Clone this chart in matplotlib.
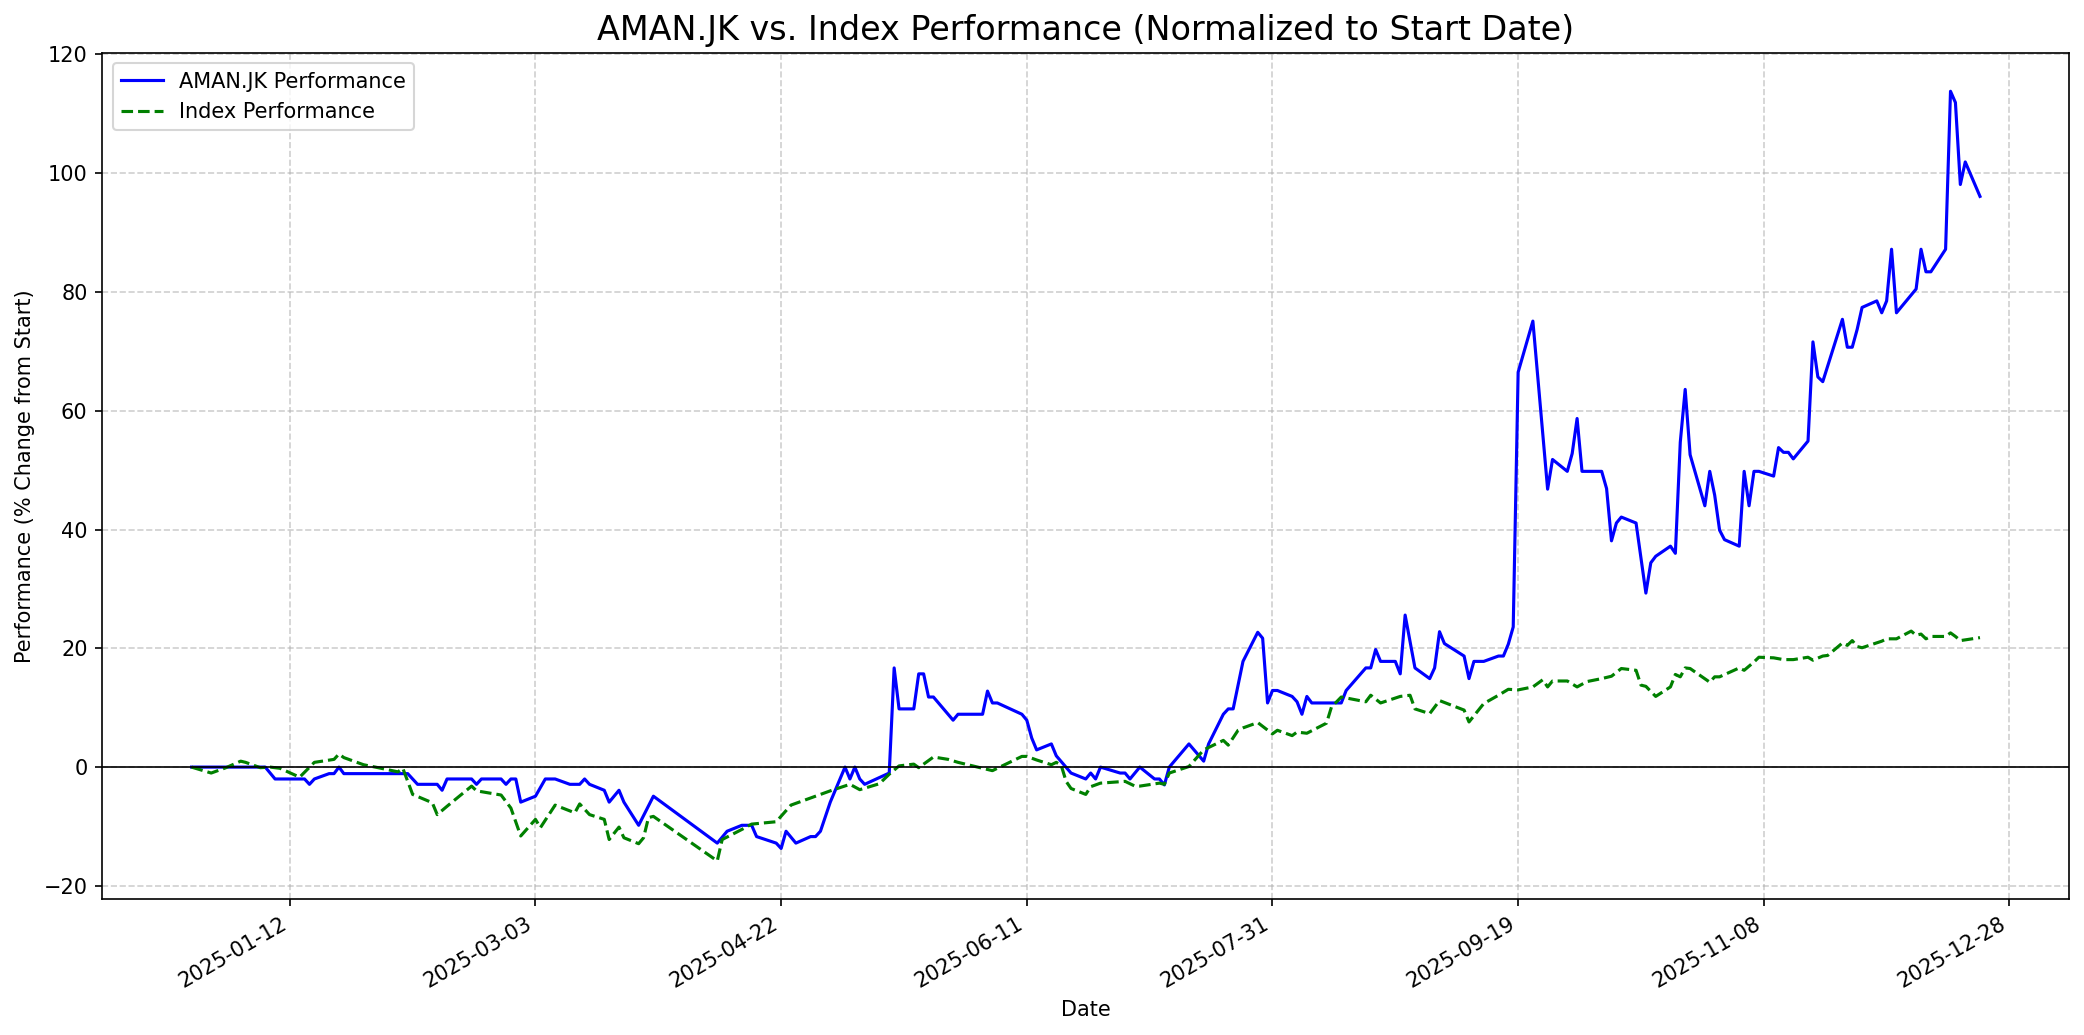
import matplotlib
matplotlib.use('Agg')
import matplotlib.pyplot as plt
import matplotlib.dates as mdates
from matplotlib.ticker import MultipleLocator
import pandas as pd

# AMAN.JK cumulative % change from start
aman_dates = [
    "2024-12-23", "2025-01-07", "2025-01-09", "2025-01-15", "2025-01-16", "2025-01-17", "2025-01-20", "2025-01-21", "2025-01-22", "2025-01-23",
    "2025-02-05", "2025-02-07", "2025-02-11", "2025-02-12", "2025-02-13", "2025-02-18", "2025-02-19", "2025-02-20", "2025-02-24", "2025-02-25",
    "2025-02-26", "2025-02-27", "2025-02-28", "2025-03-03", "2025-03-05", "2025-03-07", "2025-03-10", "2025-03-12", "2025-03-13", "2025-03-14",
    "2025-03-17", "2025-03-18", "2025-03-20", "2025-03-21", "2025-03-24", "2025-03-27", "2025-04-09", "2025-04-11", "2025-04-14", "2025-04-16",
    "2025-04-17", "2025-04-21", "2025-04-22", "2025-04-23", "2025-04-25", "2025-04-28", "2025-04-29", "2025-04-30", "2025-05-02", "2025-05-05",
    "2025-05-06", "2025-05-07", "2025-05-08", "2025-05-09", "2025-05-14", "2025-05-15", "2025-05-16", "2025-05-19", "2025-05-20", "2025-05-21",
    "2025-05-22", "2025-05-23", "2025-05-27", "2025-05-28", "2025-06-02", "2025-06-03", "2025-06-04", "2025-06-05", "2025-06-10", "2025-06-11",
    "2025-06-12", "2025-06-13", "2025-06-16", "2025-06-17", "2025-06-20", "2025-06-23", "2025-06-24", "2025-06-25", "2025-06-26", "2025-06-30",
    "2025-07-01", "2025-07-02", "2025-07-04", "2025-07-07", "2025-07-08", "2025-07-09", "2025-07-10", "2025-07-14", "2025-07-17", "2025-07-18",
    "2025-07-21", "2025-07-22", "2025-07-23", "2025-07-25", "2025-07-28", "2025-07-29", "2025-07-30", "2025-07-31", "2025-08-01", "2025-08-04",
    "2025-08-05", "2025-08-06", "2025-08-07", "2025-08-08", "2025-08-14", "2025-08-15", "2025-08-19", "2025-08-20", "2025-08-21", "2025-08-22",
    "2025-08-25", "2025-08-26", "2025-08-27", "2025-08-29", "2025-09-01", "2025-09-02", "2025-09-03", "2025-09-04", "2025-09-08", "2025-09-09",
    "2025-09-10", "2025-09-12", "2025-09-15", "2025-09-16", "2025-09-17", "2025-09-18", "2025-09-19", "2025-09-22", "2025-09-25", "2025-09-26",
    "2025-09-29", "2025-09-30", "2025-10-01", "2025-10-02", "2025-10-06", "2025-10-07", "2025-10-08", "2025-10-09", "2025-10-10", "2025-10-13",
    "2025-10-15", "2025-10-16", "2025-10-17", "2025-10-20", "2025-10-21", "2025-10-22", "2025-10-23", "2025-10-24", "2025-10-27", "2025-10-28",
    "2025-10-29", "2025-10-30", "2025-10-31", "2025-11-03", "2025-11-04", "2025-11-05", "2025-11-06", "2025-11-07", "2025-11-10", "2025-11-11",
    "2025-11-12", "2025-11-13", "2025-11-14", "2025-11-17", "2025-11-18", "2025-11-19", "2025-11-20", "2025-11-24", "2025-11-25", "2025-11-26",
    "2025-11-27", "2025-11-28", "2025-12-01", "2025-12-02", "2025-12-03", "2025-12-04", "2025-12-05", "2025-12-09", "2025-12-10", "2025-12-11",
    "2025-12-12", "2025-12-15", "2025-12-16", "2025-12-17", "2025-12-18", "2025-12-19", "2025-12-22",
]
aman_perf = [
    0.0, 0.0, -2.0, -2.0, -2.9, -2.0, -1.1, -1.1, 0.0, -1.1,
    -1.1, -2.9, -2.9, -3.9, -2.0, -2.0, -2.9, -2.0, -2.0, -2.9,
    -2.0, -2.0, -5.9, -4.9, -2.0, -2.0, -2.9, -2.9, -2.0, -2.9,
    -3.9, -5.9, -3.9, -5.9, -9.8, -4.9, -12.8, -10.8, -9.8, -9.8,
    -11.7, -12.8, -13.7, -10.8, -12.8, -11.7, -11.7, -10.8, -5.9, 0.0,
    -2.0, 0.0, -2.0, -2.9, -1.0, 16.7, 9.8, 9.8, 15.7, 15.7,
    11.8, 11.8, 7.9, 8.9, 8.9, 12.8, 10.8, 10.8, 8.9, 7.9,
    4.9, 2.9, 3.9, 1.9, -1.0, -2.0, -1.0, -2.0, 0.0, -1.0,
    -1.0, -2.0, 0.0, -2.0, -2.0, -3.0, 0.0, 3.9, 1.0, 3.9,
    8.9, 9.8, 9.8, 17.8, 22.7, 21.7, 10.8, 12.9, 12.9, 11.9,
    11.0, 8.9, 11.9, 10.8, 10.8, 12.9, 16.7, 16.7, 19.8, 17.8,
    17.8, 15.7, 25.6, 16.7, 14.9, 16.7, 22.8, 20.8, 18.7, 14.9,
    17.8, 17.8, 18.7, 18.7, 20.7, 23.6, 66.5, 75.1, 46.8, 51.8,
    49.8, 52.8, 58.7, 49.8, 49.8, 46.9, 38.1, 41.1, 42.1, 41.1,
    29.3, 34.4, 35.5, 37.2, 36.0, 54.7, 63.6, 52.6, 44.0, 49.8,
    45.8, 39.9, 38.3, 37.2, 49.8, 44.0, 49.8, 49.8, 49.0, 53.8,
    53.0, 53.0, 51.9, 54.9, 71.6, 65.7, 64.9, 75.4, 70.7, 70.7,
    73.7, 77.4, 78.5, 76.5, 78.5, 87.2, 76.5, 80.5, 87.2, 83.4,
    83.4, 87.2, 113.8, 111.9, 98.1, 101.9, 96.1,
]

# Index cumulative % change from start
index_dates = [
    "2024-12-23", "2024-12-27", "2024-12-30", "2025-01-02", "2025-01-03", "2025-01-06", "2025-01-08", "2025-01-10", "2025-01-14", "2025-01-17",
    "2025-01-21", "2025-01-22", "2025-01-23", "2025-01-27", "2025-01-30", "2025-02-03", "2025-02-04", "2025-02-06", "2025-02-10", "2025-02-11",
    "2025-02-13", "2025-02-18", "2025-02-19", "2025-02-24", "2025-02-26", "2025-02-28", "2025-03-03", "2025-03-04", "2025-03-07", "2025-03-11",
    "2025-03-12", "2025-03-14", "2025-03-17", "2025-03-18", "2025-03-20", "2025-03-21", "2025-03-24", "2025-03-25", "2025-03-26", "2025-03-27",
    "2025-04-09", "2025-04-10", "2025-04-14", "2025-04-16", "2025-04-21", "2025-04-24", "2025-04-28", "2025-05-02", "2025-05-06", "2025-05-08",
    "2025-05-12", "2025-05-14", "2025-05-16", "2025-05-19", "2025-05-20", "2025-05-23", "2025-05-26", "2025-05-28", "2025-06-02", "2025-06-04",
    "2025-06-05", "2025-06-10", "2025-06-11", "2025-06-13", "2025-06-16", "2025-06-17", "2025-06-18", "2025-06-19", "2025-06-20", "2025-06-23",
    "2025-06-24", "2025-06-26", "2025-07-01", "2025-07-03", "2025-07-04", "2025-07-08", "2025-07-09", "2025-07-10", "2025-07-14", "2025-07-17",
    "2025-07-21", "2025-07-22", "2025-07-24", "2025-07-25", "2025-07-28", "2025-07-31", "2025-08-01", "2025-08-04", "2025-08-05", "2025-08-07",
    "2025-08-11", "2025-08-12", "2025-08-14", "2025-08-19", "2025-08-20", "2025-08-22", "2025-08-26", "2025-08-28", "2025-08-29", "2025-09-01",
    "2025-09-03", "2025-09-08", "2025-09-09", "2025-09-12", "2025-09-15", "2025-09-17", "2025-09-19", "2025-09-22", "2025-09-24", "2025-09-25",
    "2025-09-26", "2025-09-29", "2025-10-01", "2025-10-03", "2025-10-06", "2025-10-08", "2025-10-10", "2025-10-13", "2025-10-14", "2025-10-15",
    "2025-10-17", "2025-10-20", "2025-10-21", "2025-10-22", "2025-10-23", "2025-10-24", "2025-10-28", "2025-10-29", "2025-10-30", "2025-11-03",
    "2025-11-04", "2025-11-06", "2025-11-07", "2025-11-10", "2025-11-12", "2025-11-14", "2025-11-17", "2025-11-18", "2025-11-20", "2025-11-21",
    "2025-11-24", "2025-11-25", "2025-11-26", "2025-11-27", "2025-11-28", "2025-12-02", "2025-12-03", "2025-12-05", "2025-12-08", "2025-12-09",
    "2025-12-10", "2025-12-11", "2025-12-12", "2025-12-15", "2025-12-16", "2025-12-17", "2025-12-18", "2025-12-22",
]
index_perf = [
    0.0, -1.0, -0.1, 1.0, 0.8, -0.1, 0.0, -0.2, -1.7, 0.8,
    1.3, 2.2, 1.6, 0.4, -0.1, -0.8, -0.2, -4.6, -6.0, -8.0,
    -6.6, -3.2, -4.0, -4.7, -6.9, -11.6, -8.8, -10.2, -6.4, -7.7,
    -6.2, -8.0, -8.8, -12.2, -10.1, -11.9, -12.9, -11.9, -8.5, -8.3,
    -15.8, -12.2, -10.5, -9.6, -9.2, -6.4, -5.2, -4.0, -2.9, -3.8,
    -2.8, -1.2, 0.2, 0.5, -0.1, 1.7, 1.3, 0.8, -0.2, -0.6,
    -0.2, 1.8, 1.8, 1.2, 0.4, 0.8, 0.3, -2.4, -3.6, -4.6,
    -3.3, -2.7, -2.4, -3.2, -3.2, -2.7, -2.9, -1.0, 0.1, 2.9,
    4.5, 3.7, 6.2, 6.6, 7.5, 5.6, 6.2, 5.3, 5.9, 5.7,
    7.4, 10.1, 11.8, 11.0, 12.1, 10.8, 11.9, 12.1, 9.8, 9.0,
    11.2, 9.6, 7.6, 10.7, 12.1, 13.1, 13.0, 13.5, 14.7, 13.5,
    14.5, 14.5, 13.5, 14.4, 14.9, 15.3, 16.6, 16.3, 13.8, 13.6,
    11.9, 13.5, 15.6, 15.2, 16.7, 16.6, 14.3, 15.2, 15.2, 16.7,
    16.3, 17.7, 18.5, 18.4, 18.1, 18.1, 18.5, 18.0, 18.7, 18.8,
    20.9, 20.5, 21.3, 20.3, 20.1, 21.2, 21.6, 21.6, 22.9, 22.2,
    22.4, 21.6, 22.0, 22.0, 22.6, 22.0, 21.3, 21.8,
]

ticker = "AMAN.JK"

fig, ax = plt.subplots(figsize=(2084 / 150, 1035 / 150), dpi=150)

ax.plot(pd.to_datetime(aman_dates), aman_perf, color='blue', label=f'{ticker} Performance')
ax.plot(pd.to_datetime(index_dates), index_perf, color='green', linestyle='--', label='Index Performance')
ax.axhline(0, color='black', linewidth=0.8)

ax.set_title(f'{ticker} vs. Index Performance (Normalized to Start Date)', fontsize=16)
ax.set_xlabel('Date')
ax.set_ylabel('Performance (% Change from Start)')
ax.legend(loc='upper left')
ax.grid(True, linestyle='--', alpha=0.6)

# ticks every 50 days on the date axis
ax.xaxis.set_major_locator(MultipleLocator(50))
ax.xaxis.set_major_formatter(mdates.DateFormatter('%Y-%m-%d'))
fig.autofmt_xdate()

fig.subplots_adjust(left=0.049, right=0.993, top=0.949, bottom=0.131)
plt.savefig('out.png', dpi=150)
plt.close()
